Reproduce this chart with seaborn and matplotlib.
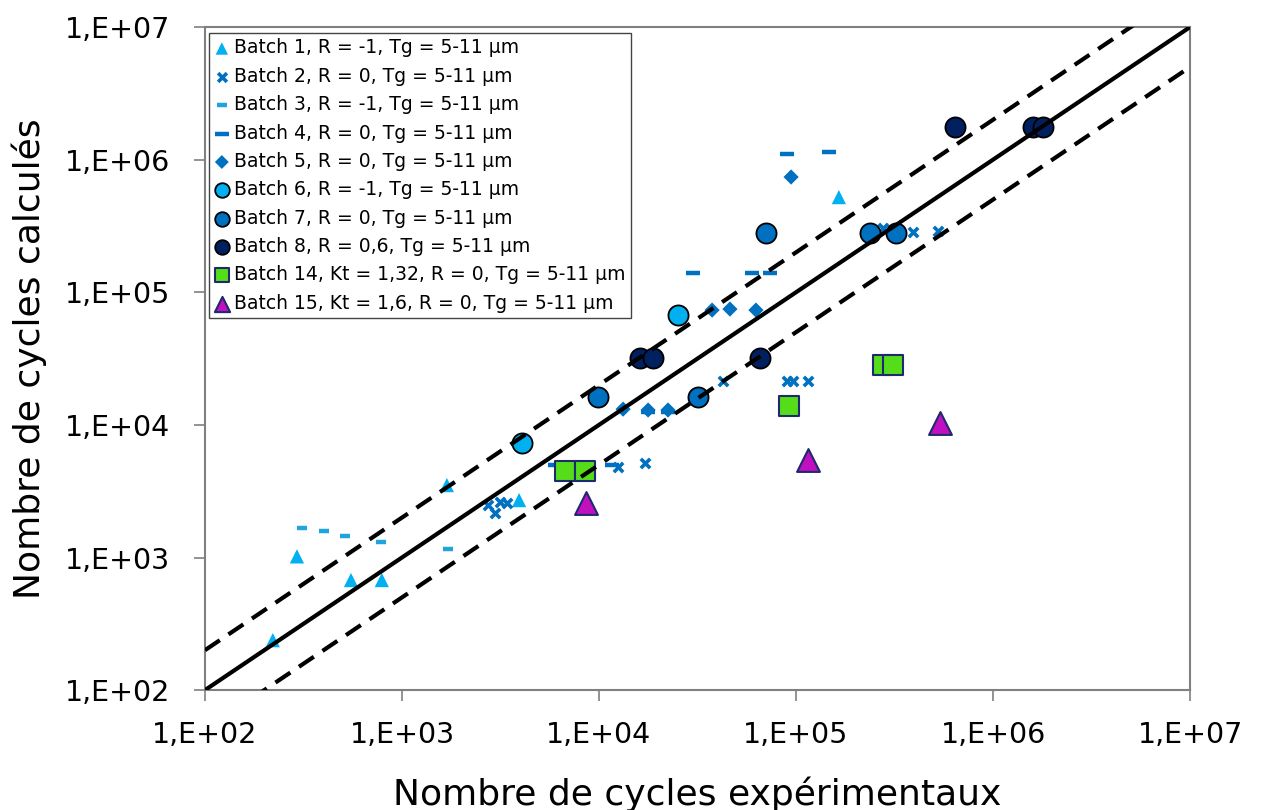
import numpy as np
import pandas as pd
import matplotlib
matplotlib.use("Agg")
import matplotlib.pyplot as plt
import seaborn as sns

# ---- data ----
labels = [
    "Batch 1, R = -1, Tg = 5-11 µm",
    "Batch 2, R = 0, Tg = 5-11 µm",
    "Batch 3, R = -1, Tg = 5-11 µm",
    "Batch 4, R = 0, Tg = 5-11 µm",
    "Batch 5, R = 0, Tg = 5-11 µm",
    "Batch 6, R = -1, Tg = 5-11 µm",
    "Batch 7, R = 0, Tg = 5-11 µm",
    "Batch 8, R = 0,6, Tg = 5-11 µm",
    "Batch 14, Kt = 1,32, R = 0, Tg = 5-11 µm",
    "Batch 15, Kt = 1,6, R = 0, Tg = 5-11 µm",
]

b1_exp = [221, 293, 551, 790, 1690, 3930, 165000]
b1_calc = [238, 1020, 676, 676, 3515, 2710, 522000]

b2_exp = [2735, 2965, 3140, 3410, 12480, 17150, 42600, 90000, 97000, 115000, 277000, 393000, 526000]
b2_calc = [2485, 2160, 2620, 2570, 4810, 5150, 21400, 21400, 21400, 21400, 305000, 284000, 288000]

b3_exp = [310, 402, 514, 781, 1714]
b3_calc = [1667, 1580, 1450, 1306, 1157]

b4_exp = [5990, 8000, 11640, 17750, 22400, 30000, 59800, 73800, 89900, 147000]
b4_calc = [4980, 4980, 4980, 12500, 12500, 139700, 139700, 139700, 1100000, 1140000]

b5_exp = [13250, 17750, 22400, 37500, 46200, 62600, 94400]
b5_calc = [13150, 12950, 12950, 73400, 74700, 73400, 740000]

b6_exp = [4060, 25200]
b6_calc = [7300, 67300]

b7_exp = [9890, 31800, 70500, 237000, 322000]
b7_calc = [16200, 16200, 279000, 279000, 279000]

b8_exp = [16150, 18800, 65600, 641000, 1600000, 1800000]
b8_calc = [31900, 31900, 31900, 1760000, 1760000, 1760000]

b14_exp = [6720, 8490, 92100, 277000, 311000]
b14_calc = [4490, 4490, 13870, 28200, 28200]

b15_exp = [8590, 115000, 538000]
b15_calc = [2570, 5430, 10300]

ref_x = [1e2, 1e7]
ref_factors = [1.0, 2.0, 0.5]

xlabel = "Nombre de cycles expérimentaux"
ylabel = "Nombre de cycles calculés"
tick_vals = [1e2, 1e3, 1e4, 1e5, 1e6, 1e7]
tick_labels = ["1,E+02", "1,E+03", "1,E+04", "1,E+05", "1,E+06", "1,E+07"]

# ---- styles ----
series = [
    (b1_exp, b1_calc, dict(marker="^", color="#00B0F0", s=105, edgecolor="none")),
    (b2_exp, b2_calc, dict(marker="x", color="#0070C0", s=45, linewidth=2.6)),
    (b3_exp, b3_calc, dict(marker="_", color="#20A4DD", s=55, linewidth=3.2)),
    (b4_exp, b4_calc, dict(marker="_", color="#0070C0", s=110, linewidth=3.2)),
    (b5_exp, b5_calc, dict(marker="D", color="#0070C0", s=60, edgecolor="none")),
    (b6_exp, b6_calc, dict(marker="o", color="#00B0F0", s=210, edgecolor="black", linewidth=1.3)),
    (b7_exp, b7_calc, dict(marker="o", color="#0070C0", s=210, edgecolor="black", linewidth=1.3)),
    (b8_exp, b8_calc, dict(marker="o", color="#002060", s=210, edgecolor="black", linewidth=1.3)),
    (b14_exp, b14_calc, dict(marker="s", color="#55DD1A", s=210, edgecolor="#1F2A6E", linewidth=1.5)),
    (b15_exp, b15_calc, dict(marker="^", color="#C010C0", s=270, edgecolor="#1F2A6E", linewidth=1.5)),
]
legend_sizes = [80, 40, 50, 90, 50, 110, 110, 110, 110, 120]

sns.set_theme(style="white")
plt.rcParams["font.family"] = ["DejaVu Sans"]
plt.rcParams["text.color"] = "black"
plt.rcParams["axes.labelcolor"] = "black"
plt.rcParams["xtick.color"] = "black"
plt.rcParams["ytick.color"] = "black"

fig = plt.figure(figsize=(12.62, 8.10), dpi=100)
ax = fig.add_axes([0.1624, 0.148, 0.7806, 0.8186])

for (xs, ys, kw), lab in zip(series, labels):
    df = pd.DataFrame({"x": xs, "y": ys})
    sns.scatterplot(data=df, x="x", y="y", ax=ax, label=lab, zorder=3, **kw)

for f in ref_factors:
    dfl = pd.DataFrame({"x": ref_x, "y": [v * f for v in ref_x]})
    sns.lineplot(data=dfl, x="x", y="y", ax=ax, color="black", linewidth=3,
                 linestyle="-" if f == 1.0 else (0, (4.3, 2.5)), zorder=4,
                 legend=False)

ax.set_xscale("log")
ax.set_yscale("log")
ax.set_xlim(1e2, 1e7)
ax.set_ylim(1e2, 1e7)
ax.set_xticks(tick_vals)
ax.set_xticklabels(tick_labels)
ax.set_yticks(tick_vals)
ax.set_yticklabels(tick_labels)
ax.minorticks_off()
ax.tick_params(axis="both", which="major", labelsize=20.5, direction="out",
               length=8, width=1.2, color="#808080", labelcolor="black",
               bottom=True, left=True)
ax.tick_params(axis="x", pad=14)
ax.tick_params(axis="y", pad=17)
for sp in ax.spines.values():
    sp.set_color("#808080")
    sp.set_linewidth(1.5)

ax.set_xlabel(xlabel, fontsize=26, labelpad=20, color="black")
ax.set_ylabel(ylabel, fontsize=26, labelpad=13, color="black")

leg = ax.legend(loc="upper left", bbox_to_anchor=(0.0, 0.997), fontsize=13.5,
                frameon=True, fancybox=False, framealpha=1, edgecolor="#444444",
                handlelength=0.8, handletextpad=0.25,
                labelspacing=0.5, borderpad=0.3, borderaxespad=0.2)
leg.get_frame().set_linewidth(1.0)
for h, sz in zip(leg.legend_handles, legend_sizes):
    h.set_sizes([sz])
for t in leg.get_texts():
    t.set_color("black")

fig.savefig("out.png", dpi=100)
